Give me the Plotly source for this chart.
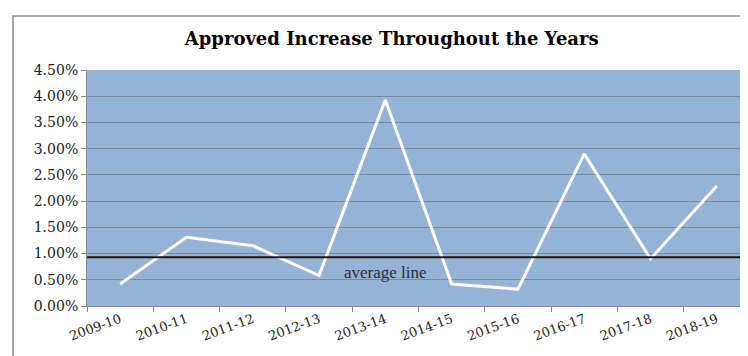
import plotly.graph_objects as go

# Data
years = ["2009-10", "2010-11", "2011-12", "2012-13", "2013-14",
         "2014-15", "2015-16", "2016-17", "2017-18", "2018-19"]
increase = [0.0042, 0.0131, 0.0115, 0.0058, 0.0393,
            0.0042, 0.0032, 0.0290, 0.0090, 0.0229]
average_value = 0.0093
y_ticks = [0.0, 0.005, 0.01, 0.015, 0.02, 0.025, 0.03, 0.035, 0.04, 0.045]

serif = "'DejaVu Serif', 'Liberation Serif', serif"

fig = go.Figure()
fig.add_trace(go.Scatter(
    x=years, y=increase, mode="lines",
    line=dict(color="white", width=3),
    showlegend=False, hoverinfo="skip",
))

# average line across the plot
fig.add_shape(type="line", xref="paper", yref="y",
              x0=0, x1=1, y0=average_value, y1=average_value,
              line=dict(color="#1a1a1a", width=2))
fig.add_annotation(x="2013-14", y=average_value, yshift=-15,
                   text="average line", showarrow=False,
                   font=dict(family="'Liberation Serif', serif", size=17,
                             color="#2a2a35"))

# outer chart frame
fig.add_shape(type="rect", xref="paper", yref="paper",
              x0=-0.1116, x1=1.0075, y0=-0.4, y1=1.229,
              line=dict(color="#8c8c8c", width=1.5), layer="below")

fig.update_layout(
    width=748, height=356,
    margin=dict(l=79, r=6, t=62, b=58),
    paper_bgcolor="white",
    plot_bgcolor="#95b3d7",
    title=dict(text="<b>Approved Increase Throughout the Years</b>",
               x=0.513, xanchor="center", y=0.913, yanchor="middle",
               font=dict(family=serif, size=18, color="black")),
    font=dict(family=serif, size=13, color="#222222"),
)
fig.update_xaxes(
    type="category", range=[-0.5, len(years) - 0.5], automargin=False,
    showgrid=False, tickangle=-20, tickson="boundaries",
    ticks="outside", ticklen=5, tickcolor="#888888",
    showline=True, linecolor="#888888",
    tickfont=dict(family=serif, size=13),
)
fig.update_yaxes(
    range=[0, 0.045], tickvals=y_ticks, tickformat=".2%", automargin=False,
    showgrid=True, gridcolor="#7b8898", gridwidth=1,
    ticks="outside", ticklen=5, tickcolor="#888888",
    showline=True, linecolor="#888888", zeroline=False,
    tickfont=dict(family=serif, size=14),
)

fig.write_html("out.html")
